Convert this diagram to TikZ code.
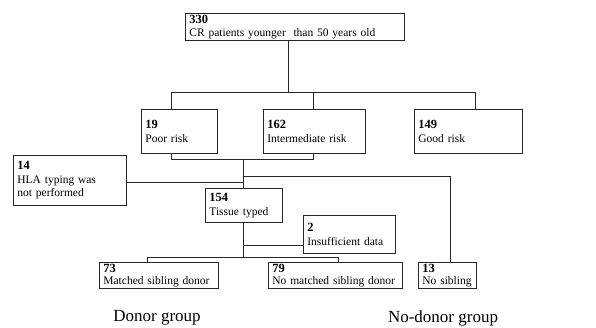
\documentclass[tikz,border=0pt]{standalone}
\usepackage{fontspec}
\setmainfont{Liberation Serif}
\newcommand{\num}[1]{{\fontsize{12.5}{13}\selectfont\bfseries #1}}
\begin{document}
\begin{tikzpicture}[x=1pt,y=-1pt,
  box/.style={draw=black!85, line width=0.8pt, anchor=north west, align=left,
    inner xsep=4pt, inner ysep=0pt, font=\fontsize{11.5}{14.5}\selectfont},
  sbox/.style={box, font=\fontsize{11.5}{12.5}\selectfont},
  conn/.style={draw=black!85, line width=0.8pt},
  grp/.style={font=\fontsize{17}{19}\selectfont}]
\useasboundingbox (0,0) rectangle (596,328);
% boxes
\node[sbox, minimum width=219, minimum height=27, text width=211] (r330) at (185,13) {\num{330}\\CR patients younger\ \ than 50 years old};
\node[box, minimum width=76, minimum height=44, text width=68] (poor) at (141,109) {\num{19}\\Poor risk};
\node[box, minimum width=102, minimum height=44, text width=94] (inter) at (263,109) {\num{162}\\Intermediate risk};
\node[box, minimum width=108, minimum height=44, text width=100] (good) at (414,109) {\num{149}\\Good risk};
\node[box, minimum width=113, minimum height=50, text width=105, font=\fontsize{11.5}{13.5}\selectfont] (hla) at (13,155) {\num{14}\\HLA typing was\\not performed};
\node[box, minimum width=77, minimum height=34, text width=69] (tis) at (205,188) {\num{154}\\Tissue typed};
\node[box, minimum width=92, minimum height=38, text width=84] (ins) at (303,215) {\num{2}\\Insufficient data};
\node[sbox, minimum width=119, minimum height=26, text width=111] (m73) at (99,262) {\num{73}\\Matched sibling donor};
\node[sbox, minimum width=134, minimum height=26, text width=126] (m79) at (268,262) {\num{79}\\No matched sibling donor};
\node[sbox, minimum width=58, minimum height=26, text width=50] (nosib) at (418,262) {\num{13}\\No sibling};
\node[grp] (dg) at (157,318) {Donor group};
\node[grp] (ndg) at (443,318) {No-donor group};
% coordinates
\coordinate (t) at (288,92);
\coordinate (busA) at (171,92);
\coordinate (busB) at (475,92);
\coordinate (brA) at (171,159);
\coordinate (brB) at (313,159);
\coordinate (stem) at (243,159);
\coordinate (hy) at (0,182);
\coordinate (ns) at (450,176);
\coordinate (iy) at (0,245);
\coordinate (b1) at (147,257);
\coordinate (b2) at (338,257);
% connectors
\draw[conn] (t |- r330.south) -- (t);
\draw[conn] (busA) -- (busB);
\draw[conn] (busA) -- (busA |- poor.north);
\draw[conn] (brB |- busA) -- (brB |- inter.north);
\draw[conn] (busB) -- (busB |- good.north);
\draw[conn] (brA |- poor.south) -- (brA) -- (brB) -- (brB |- inter.south);
\draw[conn] (stem) -- (stem |- tis.north);
\draw[conn] (hla.east |- hy) -- (stem |- hy);
\draw[conn] (stem |- ns) -- (ns) -- (ns |- nosib.north);
\draw[conn] (stem |- tis.south) -- (stem |- b1);
\draw[conn] (stem |- iy) -- (ins.west |- iy);
\draw[conn] (b1) -- (b2);
\draw[conn] (b1) -- (b1 |- m73.north);
\draw[conn] (b2) -- (b2 |- m79.north);
\end{tikzpicture}
\end{document}
